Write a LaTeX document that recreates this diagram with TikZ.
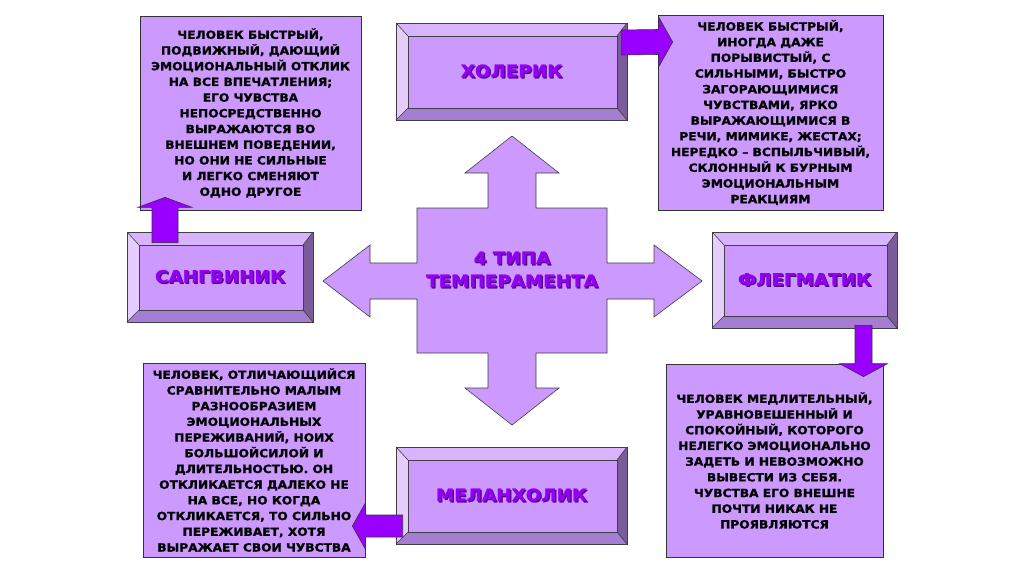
\documentclass[tikz,border=0pt]{standalone}
\usepackage{fontspec}
\newfontfamily\heavy{DejaVu Sans}[FakeStretch=1.08, FakeBold=1.2]
\usetikzlibrary{calc}
\definecolor{BoxLilac}{RGB}{204,153,255}
\definecolor{BevelTop}{RGB}{216,180,255}
\definecolor{BevelLeft}{RGB}{230,205,255}
\definecolor{BevelBottom}{RGB}{165,125,210}
\definecolor{BevelRight}{RGB}{122,92,155}
\definecolor{ArrowViolet}{RGB}{153,0,255}
\definecolor{LabelViolet}{RGB}{145,0,240}
\definecolor{LabelShadow}{RGB}{80,0,130}
\newcommand{\violetlabel}[1]{\makebox[0pt][l]{\kern1.2pt\raisebox{-1.2pt}{\color{LabelShadow}#1}}{\color{LabelViolet}#1}}

\begin{document}
\begin{tikzpicture}[
    x=1pt, y=-1pt,
    bevel/.style={draw=black!75, line width=0.6pt, fill=BoxLilac, inner sep=0pt,
                  font=\heavy\bfseries\fontsize{17}{22}\selectfont,
                  path picture={
                    \path (path picture bounding box.north west) coordinate (bnw)
                          (path picture bounding box.north east) coordinate (bne)
                          (path picture bounding box.south west) coordinate (bsw)
                          (path picture bounding box.south east) coordinate (bse);
                    \fill[BevelTop] (bnw) -- (bne) -- ([shift={(-10pt,-13pt)}]bne) -- ([shift={(12pt,-13pt)}]bnw) -- cycle;
                    \fill[BevelLeft] (bnw) -- ([shift={(12pt,-13pt)}]bnw) -- ([shift={(12pt,12pt)}]bsw) -- (bsw) -- cycle;
                    \fill[BevelBottom] (bsw) -- ([shift={(12pt,12pt)}]bsw) -- ([shift={(-10pt,12pt)}]bse) -- (bse) -- cycle;
                    \fill[BevelRight] (bne) -- (bse) -- ([shift={(-10pt,12pt)}]bse) -- ([shift={(-10pt,-13pt)}]bne) -- cycle;
                    \draw[black!75, line width=0.6pt] ([shift={(12pt,-13pt)}]bnw) rectangle ([shift={(-10pt,12pt)}]bse);
                    \draw[black!75, line width=0.6pt] (bnw) -- ([shift={(12pt,-13pt)}]bnw)
                          (bne) -- ([shift={(-10pt,-13pt)}]bne)
                          (bsw) -- ([shift={(12pt,12pt)}]bsw)
                          (bse) -- ([shift={(-10pt,12pt)}]bse);
                  }},
    infobox/.style={draw=black!80, line width=0.7pt, fill=BoxLilac, inner sep=0pt, align=center,
                    font=\heavy\bfseries\fontsize{11.3}{15.7}\selectfont},
    blockarrow/.style={draw=black!80, fill=ArrowViolet, line width=0.6pt},
    cross/.style={draw=black!75, fill=BoxLilac, line width=0.6pt}
]
    \useasboundingbox[fill=white] (0,0) rectangle (1024,574);

    % central cross
    \draw[cross] (512,136) -- (559,173) -- (536,173) -- (536,208) -- (607,208) -- (607,263)
        -- (654,263) -- (654,245) -- (702,281) -- (654,317) -- (654,299) -- (607,299)
        -- (607,353) -- (536,353) -- (536,388) -- (559,388) -- (512,425) -- (465,388)
        -- (488,388) -- (488,353) -- (417,353) -- (417,299) -- (370,299) -- (370,317)
        -- (323,281) -- (370,245) -- (370,263) -- (417,263) -- (417,208) -- (488,208)
        -- (488,173) -- (465,173) -- cycle;
    \node[font=\heavy\bfseries\fontsize{17}{23}\selectfont, align=center] (types) at (512,270)
        {\violetlabel{4 ТИПА}\\\violetlabel{ТЕМПЕРАМЕНТА}};

    % temperaments
    \node[bevel, minimum width=231pt, minimum height=97pt] (chol) at (511.5,71.5) {\violetlabel{ХОЛЕРИК}};
    \node[bevel, minimum width=186pt, minimum height=90pt] (sang) at (220,277) {\violetlabel{САНГВИНИК}};
    \node[bevel, minimum width=185pt, minimum height=96pt] (phleg) at (804.5,280) {\violetlabel{ФЛЕГМАТИК}};
    \node[bevel, minimum width=231pt, minimum height=97pt] (mel) at (511.5,495.5) {\violetlabel{МЕЛАНХОЛИК}};

    % descriptions
    \node[infobox, minimum width=221pt, minimum height=194pt] (tsang) at (250.5,113)
        {ЧЕЛОВЕК БЫСТРЫЙ,\\ПОДВИЖНЫЙ, ДАЮЩИЙ\\ЭМОЦИОНАЛЬНЫЙ ОТКЛИК\\НА ВСЕ ВПЕЧАТЛЕНИЯ;\\
         ЕГО ЧУВСТВА\\НЕПОСРЕДСТВЕННО\\ВЫРАЖАЮТСЯ ВО\\ВНЕШНЕМ ПОВЕДЕНИИ,\\
         НО ОНИ НЕ СИЛЬНЫЕ\\И ЛЕГКО СМЕНЯЮТ\\ОДНО ДРУГОЕ};
    \node[infobox, minimum width=225pt, minimum height=195pt] (tchol) at (770.5,112.5)
        {ЧЕЛОВЕК БЫСТРЫЙ,\\ИНОГДА ДАЖЕ\\ПОРЫВИСТЫЙ, С\\СИЛЬНЫМИ, БЫСТРО\\
         ЗАГОРАЮЩИМИСЯ\\ЧУВСТВАМИ, ЯРКО\\ВЫРАЖАЮЩИМИСЯ В\\РЕЧИ, МИМИКЕ, ЖЕСТАХ;\\
         НЕРЕДКО – ВСПЫЛЬЧИВЫЙ,\\СКЛОННЫЙ К БУРНЫМ\\ЭМОЦИОНАЛЬНЫМ\\РЕАКЦИЯМ};
    \node[infobox, minimum width=222pt, minimum height=194pt] (tmel) at (254,460)
        {ЧЕЛОВЕК, ОТЛИЧАЮЩИЙСЯ\\СРАВНИТЕЛЬНО МАЛЫМ\\РАЗНООБРАЗИЕМ\\ЭМОЦИОНАЛЬНЫХ\\
         ПЕРЕЖИВАНИЙ, НОИХ\\БОЛЬШОЙСИЛОЙ И\\ДЛИТЕЛЬНОСТЬЮ. ОН\\ОТКЛИКАЕТСЯ ДАЛЕКО НЕ\\
         НА ВСЕ, НО КОГДА\\ОТКЛИКАЕТСЯ, ТО СИЛЬНО\\ПЕРЕЖИВАЕТ, ХОТЯ\\ВЫРАЖАЕТ СВОИ ЧУВСТВА};
    \node[infobox, minimum width=217pt, minimum height=193pt] (tphleg) at (774.5,460.5)
        {ЧЕЛОВЕК МЕДЛИТЕЛЬНЫЙ,\\УРАВНОВЕШЕННЫЙ И\\СПОКОЙНЫЙ, КОТОРОГО\\НЕЛЕГКО ЭМОЦИОНАЛЬНО\\
         ЗАДЕТЬ И НЕВОЗМОЖНО\\ВЫВЕСТИ ИЗ СЕБЯ.\\ЧУВСТВА ЕГО ВНЕШНЕ\\ПОЧТИ НИКАК НЕ\\ПРОЯВЛЯЮТСЯ};

    % block arrows
    \coordinate (sangTail) at ([xshift=-55pt,yshift=-11pt]sang.north);
    \coordinate (sangTip) at ([xshift=-85.5pt,yshift=13pt]tsang.south);
    \draw[blockarrow] ($(sangTail)+(-13,0)$) -- ($(sangTip)+(-13,10)$) -- ($(sangTip)+(-27,10)$)
        -- (sangTip) -- ($(sangTip)+(27,10)$) -- ($(sangTip)+(13,10)$) -- ($(sangTail)+(13,0)$) -- cycle;

    \coordinate (cholTail) at ([xshift=-6pt,yshift=29pt]chol.east);
    \coordinate (cholTip) at ([xshift=15pt,yshift=70.5pt]tchol.west);
    \draw[blockarrow] ($(cholTail)+(0,-12.5)$) -- ($(cholTip)+(-14,-12.5)$) -- ($(cholTip)+(-14,-25)$)
        -- (cholTip) -- ($(cholTip)+(-14,25)$) -- ($(cholTip)+(-14,12.5)$) -- ($(cholTail)+(0,12.5)$) -- cycle;

    \coordinate (phlegTail) at ([xshift=59pt,yshift=3pt]phleg.south);
    \coordinate (phlegTip) at ([xshift=89pt,yshift=-13pt]tphleg.north);
    \draw[blockarrow] ($(phlegTail)+(-8.5,0)$) -- ($(phlegTip)+(-8.5,-13)$) -- ($(phlegTip)+(-24,-13)$)
        -- (phlegTip) -- ($(phlegTip)+(24,-13)$) -- ($(phlegTip)+(8.5,-13)$) -- ($(phlegTail)+(8.5,0)$) -- cycle;

    \coordinate (melTail) at ([xshift=7pt,yshift=-30.5pt]mel.west);
    \coordinate (melTip) at ([xshift=-13pt,yshift=-66pt]tmel.east);
    \draw[blockarrow] ($(melTail)+(0,-11)$) -- ($(melTip)+(13,-11)$) -- ($(melTip)+(13,-23)$)
        -- (melTip) -- ($(melTip)+(13,23)$) -- ($(melTip)+(13,11)$) -- ($(melTail)+(0,11)$) -- cycle;
\end{tikzpicture}
\end{document}
